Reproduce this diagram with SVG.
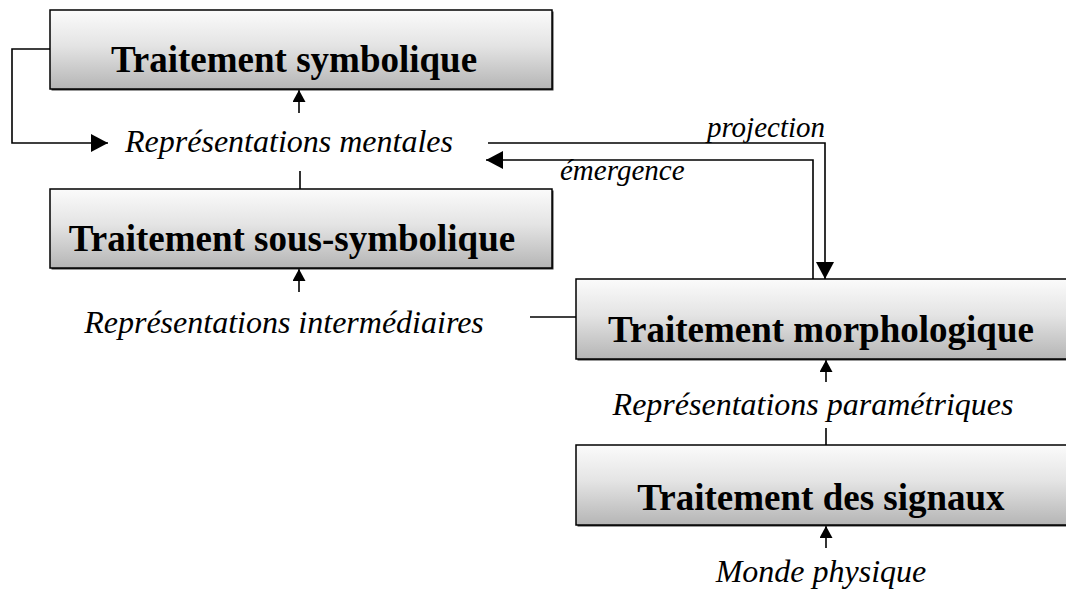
<svg xmlns="http://www.w3.org/2000/svg" width="1066" height="599" viewBox="0 0 1066 599">
<style>
.box{stroke:#000;stroke-width:1.5;fill:url(#g)}
.shadow{fill:#333}
.t{font-family:"Liberation Serif","Times New Roman",serif;font-weight:bold;font-size:37px;fill:#000;text-anchor:middle}
.l{font-family:"Liberation Serif","Times New Roman",serif;font-style:italic;font-size:32px;fill:#000;text-anchor:middle}
.s{font-family:"Liberation Serif","Times New Roman",serif;font-style:italic;font-size:29px;fill:#000}
.c{fill:none;stroke:#000;stroke-width:1.6}
</style>
<defs>
<linearGradient id="g" x1="0" y1="0" x2="0" y2="1">
<stop offset="0" stop-color="#fbfbfb"/>
<stop offset="0.45" stop-color="#e4e4e4"/>
<stop offset="1" stop-color="#b5b5b5"/>
</linearGradient>
<marker id="big" markerUnits="userSpaceOnUse" markerWidth="20" markerHeight="20" refX="17" refY="9" orient="auto">
<path d="M0,0 L17,9 L0,18 Z" fill="#000"/>
</marker>
<marker id="sm" markerUnits="userSpaceOnUse" markerWidth="14" markerHeight="14" refX="12" refY="6.5" orient="auto">
<path d="M0,0 L12,6.5 L0,13 Z" fill="#000"/>
</marker>
</defs>
<rect width="1066" height="599" fill="#fff"/>

<g id="connectors">
<path class="c" d="M50,49 H12 V143 H108" marker-end="url(#big)"/>
<path class="c" d="M299,113 V90" marker-end="url(#sm)"/>
<path class="c" d="M300,171 V189"/>
<path class="c" d="M299,292 V269" marker-end="url(#sm)"/>
<path class="c" d="M530,317 H576"/>
<path class="c" d="M488,143 H825 V279" marker-end="url(#big)"/>
<path class="c" d="M813,279 V160 H486" marker-end="url(#big)"/>
<path class="c" d="M826,382 V360" marker-end="url(#sm)"/>
<path class="c" d="M826,428 V445"/>
<path class="c" d="M826,548 V526" marker-end="url(#sm)"/>
</g>

<g id="node-symbolique">
<rect class="shadow" x="51.5" y="11.5" width="502" height="79"/>
<rect class="box" x="50" y="10" width="502" height="79"/>
<text class="t" x="294" y="72">Traitement symbolique</text>
</g>
<g id="node-sous-symbolique">
<rect class="shadow" x="51.5" y="190.5" width="502" height="79"/>
<rect class="box" x="50" y="189" width="502" height="79"/>
<text class="t" x="292" y="251">Traitement sous-symbolique</text>
</g>
<g id="node-morphologique">
<rect class="shadow" x="577.5" y="280.5" width="500" height="80"/>
<rect class="box" x="576" y="279" width="500" height="80"/>
<text class="t" x="821" y="342">Traitement morphologique</text>
</g>
<g id="node-signaux">
<rect class="shadow" x="577.5" y="446.5" width="500" height="80"/>
<rect class="box" x="576" y="445" width="500" height="80"/>
<text class="t" x="821" y="510">Traitement des signaux</text>
</g>

<g id="labels">
<text class="l" x="289" y="152">Représentations mentales</text>
<text class="l" x="284" y="333">Représentations intermédiaires</text>
<text class="l" x="813" y="415">Représentations paramétriques</text>
<text class="l" x="821" y="582">Monde physique</text>
<text class="s" x="825" y="137" text-anchor="end">projection</text>
<text class="s" x="560" y="180">émergence</text>
</g>
</svg>
